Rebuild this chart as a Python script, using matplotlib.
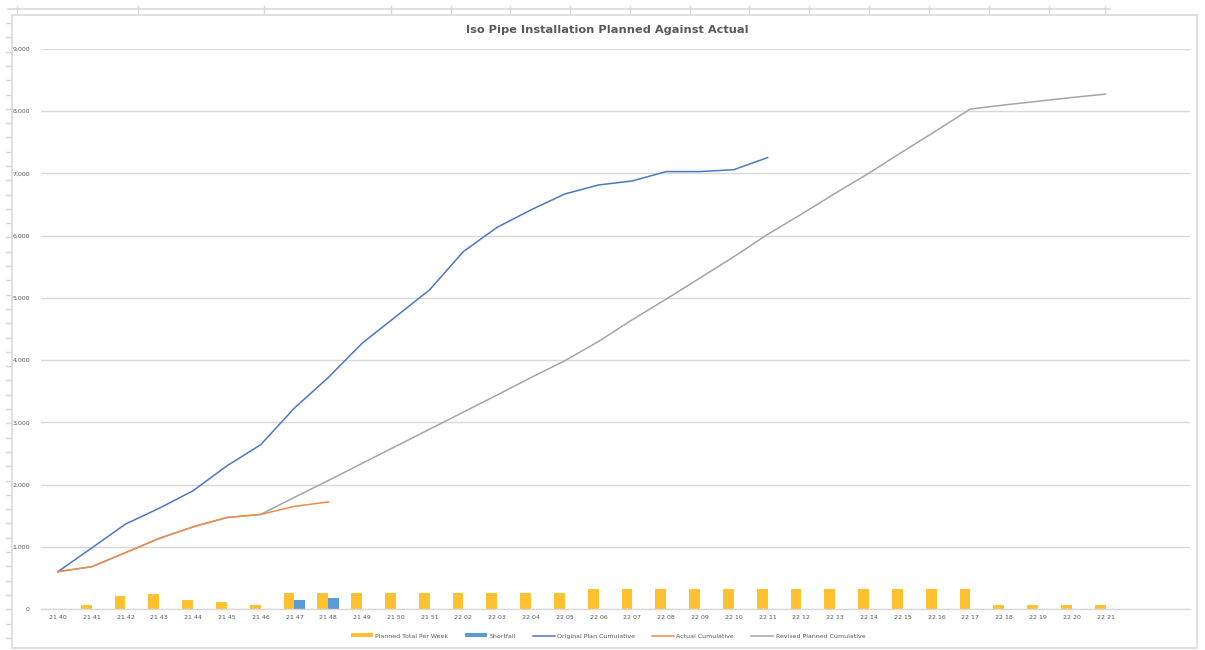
import numpy as np
import matplotlib
matplotlib.use("Agg")
import matplotlib.pyplot as plt
from matplotlib.lines import Line2D
from matplotlib.patches import Rectangle

# Week labels (year + week number)
weeks = ["21 40", "21 41", "21 42", "21 43", "21 44", "21 45", "21 46", "21 47",
         "21 48", "21 49", "21 50", "21 51", "22 02", "22 03", "22 04", "22 05",
         "22 06", "22 07", "22 08", "22 09", "22 10", "22 11", "22 12", "22 13",
         "22 14", "22 15", "22 16", "22 17", "22 18", "22 19", "22 20", "22 21"]

planned_per_week = [0, 65, 210, 245, 150, 120, 65, 265, 265, 265, 265, 265, 265, 265,
                    265, 265, 320, 320, 320, 320, 320, 320, 320, 320, 320, 320, 320,
                    320, 65, 65, 65, 65]
shortfall = [0, 0, 0, 0, 0, 0, 0, 150, 175, 0, 0, 0, 0, 0, 0, 0,
             0, 0, 0, 0, 0, 0, 0, 0, 0, 0, 0, 0, 0, 0, 0, 0]

original_plan_cum = [600, 980, 1365, 1620, 1900, 2300, 2640, 3230, 3720, 4270, 4700,
                     5130, 5745, 6135, 6415, 6670, 6815, 6880, 7030, 7030, 7060, 7255]
actual_cum = [600, 680, 905, 1135, 1320, 1470, 1520, 1650, 1720]
revised_cum = [600, 680, 905, 1135, 1320, 1470, 1520, 1795, 2065, 2340, 2615, 2890,
               3165, 3440, 3720, 3990, 4300, 4650, 4980, 5320, 5660, 6020, 6345, 6680,
               7005, 7350, 7690, 8035, 8100, 8160, 8220, 8275]

W, H = 1205, 650
fig = plt.figure(figsize=(W / 100, H / 100), dpi=100)

def fx(px):
    return px / W

def fy(py):
    return 1 - py / H

# spreadsheet bits visible around the chart
frame = "#d9d9d9"
fig.add_artist(Rectangle((fx(12), fy(648)), fx(1197) - fx(12), fy(15) - fy(648),
                         transform=fig.transFigure, fill=False, edgecolor=frame, lw=1.2))
fig.add_artist(Line2D([fx(8), fx(1110)], [fy(9), fy(9)], transform=fig.transFigure,
                      color=frame, lw=1.2))
for cx in [17, 138, 264, 391, 451, 510, 570, 630, 690, 749, 809, 869, 929, 989, 1049, 1105]:
    fig.add_artist(Line2D([fx(cx), fx(cx)], [fy(6), fy(13)], transform=fig.transFigure,
                          color=frame, lw=1.0))
for ry in np.arange(23, 648, 14.3):
    fig.add_artist(Line2D([fx(6), fx(11)], [fy(ry), fy(ry)], transform=fig.transFigure,
                          color=frame, lw=1.0))

ax = fig.add_axes([fx(41), fy(609), fx(1190) - fx(41), fy(49) - fy(609)])

x = np.arange(len(weeks))
bw = 0.32
ax.bar(x - bw / 2, planned_per_week, width=bw, color="#FFC12F", label="Planned Total Per Week", zorder=2)
ax.bar(x + bw / 2, shortfall, width=bw, color="#5B9BD5", label="Shortfall", zorder=2)

ax.plot(np.arange(len(original_plan_cum)), original_plan_cum, color="#4A78C8", lw=1.1,
        label="Original Plan Cumulative", zorder=4)
ax.plot(np.arange(len(revised_cum)), revised_cum, color="#A5A5A5", lw=1.1,
        label="Revised Planned Cumulative", zorder=3)
ax.plot(np.arange(len(actual_cum)), actual_cum, color="#EF8A4C", lw=1.1,
        label="Actual Cumulative", zorder=5)

ax.set_xlim(-0.5, 33.5)
ax.set_ylim(0, 9000)
ax.set_yticks(np.arange(0, 9001, 1000))
ax.set_yticklabels(["0"] + [f"{v:,}" for v in range(1000, 9001, 1000)])
ax.set_xticks(x)
ax.set_xticklabels(weeks)
ax.tick_params(axis="both", length=0, labelsize=4.5, labelcolor="#595959")
ax.tick_params(axis="y", pad=8)
ax.tick_params(axis="x", pad=4)
ax.grid(axis="y", color="#d9d9d9", lw=1.0, zorder=0)
ax.set_axisbelow(True)
for s in ["top", "right", "left"]:
    ax.spines[s].set_visible(False)
ax.spines["bottom"].set_color("#d9d9d9")
ax.spines["bottom"].set_linewidth(1.0)

fig.text(fx(607), fy(30), "Iso Pipe Installation Planned Against Actual", ha="center",
         va="center", fontsize=8.2, fontweight="bold", color="#595959")

handles, labels = ax.get_legend_handles_labels()
order = ["Planned Total Per Week", "Shortfall", "Original Plan Cumulative",
         "Actual Cumulative", "Revised Planned Cumulative"]
hmap = dict(zip(labels, handles))
fig.legend([hmap[k] for k in order], order, loc="center", bbox_to_anchor=(fx(608), fy(636)),
           ncol=5, frameon=False, fontsize=4.5, labelcolor="#595959",
           handlelength=3.5, handleheight=0.6, columnspacing=2.7, handletextpad=0.4)

fig.savefig("out.png", dpi=100, facecolor="white")
